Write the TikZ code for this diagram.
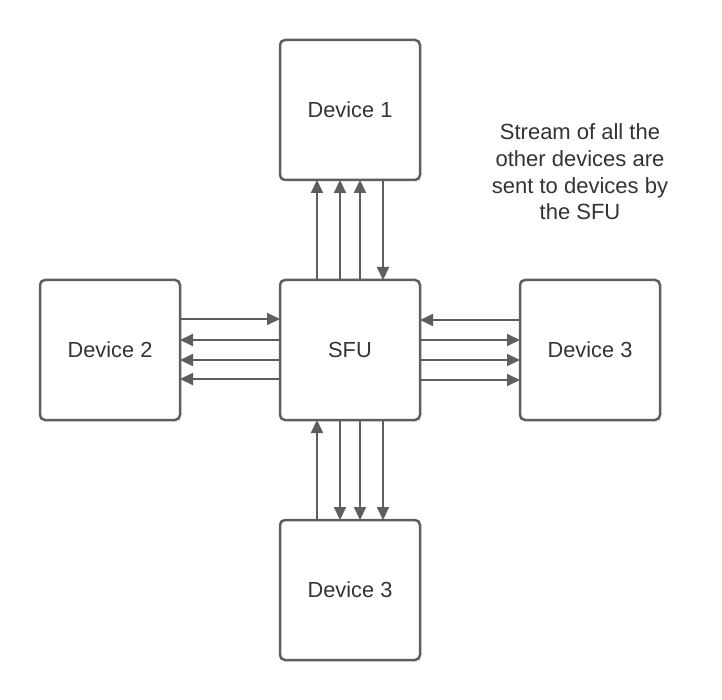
\documentclass[tikz,border=0pt]{standalone}
\usepackage{fontspec}
\setmainfont{Liberation Sans}
\usetikzlibrary{arrows.meta}
\definecolor{strokegray}{HTML}{5E5E5E}
\definecolor{textgray}{HTML}{333333}
\begin{document}
\begin{tikzpicture}[x=1pt,y=-1pt,
  devbox/.style={draw=strokegray, line width=2.5pt, rounded corners=5pt, minimum width=140pt, minimum height=140pt, inner sep=0pt, text=textgray, font=\fontsize{21.8}{26}\selectfont},
  flow/.style={draw=strokegray, line width=2pt, -{Triangle[length=13pt,width=12pt]}}]
\useasboundingbox (0,0) rectangle (722,700);
\node[devbox] (d1) at (350,110) {Device 1};
\node[devbox] (sfu) at (350,350) {SFU};
\node[devbox] (d2) at (110,350) {Device 2};
\node[devbox] (d3) at (590,350) {Device 3};
\node[devbox] (d4) at (350,590) {Device 3};
\node[text=textgray, align=center, font=\fontsize{22}{26.7}\selectfont] (note) at (580,172) {Stream of all the\\other devices are\\sent to devices by\\the SFU};
% top
\foreach \x in {317,340,360}{
  \coordinate (a) at (\x,280); \coordinate (b) at (\x,180);
  \draw[flow] (a) -- (b);}
\coordinate (a) at (383,180); \coordinate (b) at (383,280);
\draw[flow] (a) -- (b);
% bottom
\coordinate (a) at (317,520); \coordinate (b) at (317,420);
\draw[flow] (a) -- (b);
\foreach \x in {340,360,383}{
  \coordinate (a) at (\x,420); \coordinate (b) at (\x,520);
  \draw[flow] (a) -- (b);}
% left
\coordinate (a) at (180,319); \coordinate (b) at (280,319);
\draw[flow] (a) -- (b);
\foreach \y in {340,360,379}{
  \coordinate (a) at (280,\y); \coordinate (b) at (180,\y);
  \draw[flow] (a) -- (b);}
% right
\coordinate (a) at (520,320); \coordinate (b) at (420,320);
\draw[flow] (a) -- (b);
\foreach \y in {340,360,380}{
  \coordinate (a) at (420,\y); \coordinate (b) at (520,\y);
  \draw[flow] (a) -- (b);}
\end{tikzpicture}
\end{document}
